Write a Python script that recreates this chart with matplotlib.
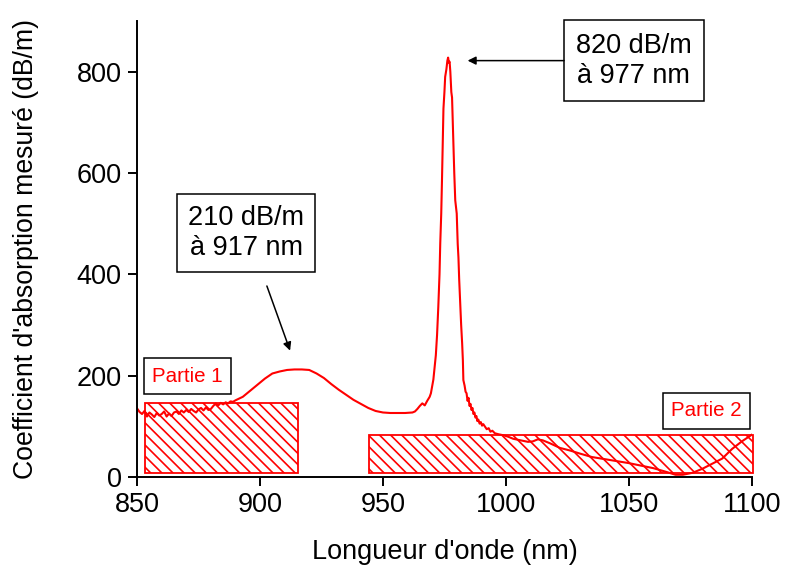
import matplotlib.pyplot as plt
from matplotlib.patches import Rectangle

plt.rcParams["font.family"] = ["Liberation Sans", "DejaVu Sans"]
plt.rcParams["hatch.linewidth"] = 1.2
plt.rcParams["hatch.color"] = "red"

# longueur d'onde (nm)
wl = [850, 851, 852, 853, 854, 855, 856, 857, 858, 859, 860, 861, 862, 863, 864,
      865, 866, 867, 868, 869, 870, 871, 872, 873, 874, 875, 876, 877, 878, 879,
      880, 881, 882, 883, 884, 885, 886, 887, 888, 889, 890,
      893, 896, 899, 902, 905, 908, 911, 914, 917, 920, 923, 926, 929, 932, 935,
      938, 941, 944, 947, 950, 953, 956, 959, 962, 963, 964, 965, 966, 967, 968,
      969, 969.5, 970, 970.5, 971, 971.5, 972, 972.5, 973, 973.3, 973.7, 974,
      974.3, 974.6, 975, 975.3, 975.8, 976.2, 976.5, 976.8, 977.1, 977.4, 977.8,
      978.1, 978.4, 978.6, 979, 979.4, 980, 980.4, 980.7, 981.0, 981.4, 981.8,
      982.2, 982.5, 982.7, 983.2, 983.6, 984.0, 984.4, 984.8, 985.2, 985.6, 986.0,
      986.4, 986.8, 987.2, 987.6, 988.0, 988.4, 988.8, 989.3, 989.8, 990.3, 990.8,
      991.5, 992.2, 993, 993.7, 994.5, 995.5, 997, 999, 1001, 1003, 1005, 1007,
      1009, 1011, 1013, 1015, 1018, 1022, 1026, 1030, 1035, 1040, 1045, 1050,
      1055, 1060, 1065, 1069, 1072, 1076, 1080, 1084, 1088, 1092, 1096, 1100]
# coefficient d'absorption (dB/m)
absorb = [135, 128, 124, 130, 119, 127, 123, 118, 126, 121, 124, 129, 119, 125, 120,
          127, 129, 124, 131, 127, 132, 128, 134, 130, 127, 133, 136, 131, 137, 132,
          134, 140, 145, 141, 146, 143, 147, 145, 149, 148, 151,
          158, 170, 182, 194, 204, 208, 211, 212, 212, 211, 204, 195, 183, 172, 162,
          152, 144, 136, 130, 127, 126, 126, 126, 127, 129, 134, 140, 145, 141, 150,
          158, 165, 178, 192, 215, 240, 280, 335, 400, 461, 520, 585,
          660, 727, 760, 790, 805, 822, 828, 818, 820, 800, 760,
          749, 700, 664, 600, 546, 520, 460, 433, 390, 343, 300,
          264, 230, 191, 180, 168, 165, 150, 156, 140, 144, 132,
          136, 124, 127, 117, 120, 110, 113, 105, 108, 101, 104,
          99, 94, 96, 89, 91, 86, 84, 82, 79, 75, 73, 71,
          69, 70, 74, 72, 66, 57, 52, 46, 39, 35, 31, 27,
          22, 17, 10, 4, 4, 8, 16, 26, 36, 55, 70, 83]

# zones hachurées
part_names = ["Partie 1", "Partie 2"]
part_x0 = [853.3, 944.3]
part_x1 = [915.4, 1100.4]
part_y0 = [8, 8]
part_y1 = [146, 83]
part_label_pos = [(870.5, 199), (1081.5, 130)]

fig, ax = plt.subplots(figsize=(7.88, 5.71), dpi=100)
fig.subplots_adjust(left=0.174, right=0.954, bottom=0.165, top=0.963)

for i in range(len(part_names)):
    ax.add_patch(Rectangle((part_x0[i], part_y0[i]), part_x1[i] - part_x0[i],
                           part_y1[i] - part_y0[i], facecolor="none",
                           edgecolor="red", lw=1.3, hatch="\\\\\\", clip_on=False))
    ax.text(part_label_pos[i][0], part_label_pos[i][1], part_names[i], color="red",
            fontsize=14.8, ha="center", va="center",
            bbox=dict(boxstyle="square,pad=0.4", fc="white", ec="black", lw=1.1))

ax.plot(wl, absorb, color="red", lw=1.5)

# annotations des pics
ax.text(894.3, 481, "210 dB/m\nà 917 nm", fontsize=19.5, ha="center", va="center",
        bbox=dict(boxstyle="square,pad=0.4", fc="white", ec="black", lw=1.1))
ax.annotate("", xy=(912.6, 244), xytext=(902.4, 382),
            arrowprops=dict(arrowstyle="-|>", color="black", lw=1.1, mutation_scale=12))
ax.text(1052, 822, "820 dB/m\nà 977 nm", fontsize=19.5, ha="center", va="center",
        bbox=dict(boxstyle="square,pad=0.45", fc="white", ec="black", lw=1.1))
ax.annotate("", xy=(983.3, 822), xytext=(1024.8, 822),
            arrowprops=dict(arrowstyle="-|>", color="black", lw=1.1, mutation_scale=12))

ax.set_xlim(850, 1100)
ax.set_ylim(0, 900)
ax.set_xticks([850, 900, 950, 1000, 1050, 1100])
ax.set_yticks([0, 200, 400, 600, 800])
ax.spines["top"].set_visible(False)
ax.spines["right"].set_visible(False)
ax.spines["left"].set_linewidth(1.4)
ax.spines["bottom"].set_linewidth(1.4)
ax.tick_params(direction="out", length=6.5, width=1.4, labelsize=19.5, pad=4.5)
ax.set_xlabel("Longueur d'onde (nm)", fontsize=19.5, labelpad=15)
ax.set_ylabel("Coefficient d'absorption mesuré (dB/m)", fontsize=19.2, labelpad=27)

fig.savefig("out.png", dpi=100)
